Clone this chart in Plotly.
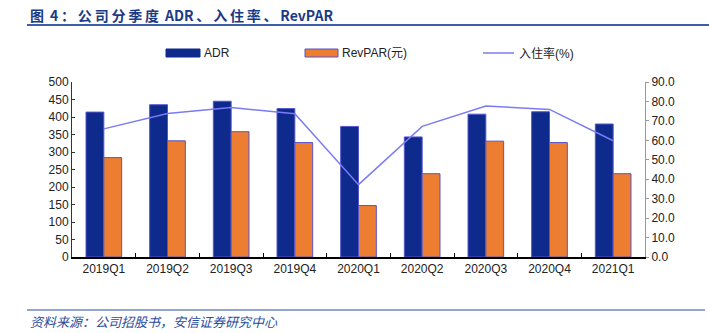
import plotly.graph_objects as go

categories = ["2019Q1", "2019Q2", "2019Q3", "2019Q4", "2020Q1", "2020Q2", "2020Q3", "2020Q4", "2021Q1"]
adr = [414, 435, 445, 424, 373, 343, 408, 415, 380]
revpar = [284, 332, 358, 327, 147, 238, 331, 327, 238]
occupancy = [65.9, 73.8, 76.9, 73.7, 37.2, 67.2, 77.6, 75.9, 59.8]

left_ticks = list(range(0, 501, 50))
right_ticks = list(range(0, 91, 10))

# plot area in pixels
PL, PR, PT, PB = 72, 645, 82, 257
W, H = 709, 333


def px(x):
    return (x - PL) / (PR - PL)


def py(y):
    return (PB - y) / (PB - PT)


FONT = "Liberation Sans, Arial, Noto Sans CJK SC, sans-serif"
CJK = "Noto Sans CJK SC, Liberation Sans, sans-serif"
ADR_C = "#0D2A8C"
REV_C = "#ED7D31"
EDGE_C = "#5555CC"
LINE_C = "#7B7BF5"

fig = go.Figure()
fig.add_trace(go.Bar(x=categories, y=adr, name="ADR", marker=dict(color=ADR_C, line=dict(color=EDGE_C, width=1)),
                     showlegend=False))
fig.add_trace(go.Bar(x=categories, y=revpar, name="RevPAR(元)", marker=dict(color=REV_C, line=dict(color=EDGE_C, width=1)),
                     showlegend=False))
fig.add_trace(go.Scatter(x=categories, y=occupancy, name="入住率(%)", mode="lines", yaxis="y2",
                         line=dict(color=LINE_C, width=1.5), showlegend=False))

shapes = []
annotations = []

# title and rule (letter-spaced like the reference)
S = "\u2009"
title_txt = ("图" + S + " 4" + S + "：" + S + S.join("公司分季度") + S + " ADR" + S + "、" + S
             + S.join("入住率") + S + "、" + S + "RevPAR")
annotations.append(dict(text="<b>" + title_txt + "</b>", xref="paper", yref="paper",
                        x=px(28), y=py(15), xanchor="left", yanchor="middle", showarrow=False,
                        font=dict(family=CJK, size=14, color="#1B3A86")))
shapes.append(dict(type="line", xref="paper", yref="paper", x0=px(27), x1=px(709), y0=py(25), y1=py(25),
                   line=dict(color="#3D5EA8", width=2)))

# source
shapes.append(dict(type="line", xref="paper", yref="paper", x0=px(27), x1=px(705), y0=py(310), y1=py(310),
                   line=dict(color="#2B4C9C", width=1)))
annotations.append(dict(text="<i>资料来源：公司招股书，安信证券研究中心</i>", xref="paper", yref="paper",
                        x=px(28), y=py(321), xanchor="left", yanchor="middle", showarrow=False,
                        font=dict(family=CJK, size=13, color="#2B4C9C")))

# custom legend
LY = 53
shapes.append(dict(type="rect", xref="paper", yref="paper", x0=px(166), x1=px(200), y0=py(LY - 4), y1=py(LY + 4),
                   fillcolor=ADR_C, line=dict(color=ADR_C, width=1)))
annotations.append(dict(text="ADR", xref="paper", yref="paper", x=px(202), y=py(LY), xanchor="left",
                        yanchor="middle", showarrow=False, font=dict(family=FONT, size=12, color="#222")))
shapes.append(dict(type="rect", xref="paper", yref="paper", x0=px(305), x1=px(338), y0=py(LY - 4), y1=py(LY + 4),
                   fillcolor=REV_C, line=dict(color=EDGE_C, width=1)))
annotations.append(dict(text="RevPAR(元)", xref="paper", yref="paper", x=px(340), y=py(LY), xanchor="left",
                        yanchor="middle", showarrow=False, font=dict(family=FONT, size=12, color="#222")))
shapes.append(dict(type="line", xref="paper", yref="paper", x0=px(483), x1=px(514), y0=py(LY), y1=py(LY),
                   line=dict(color=LINE_C, width=1.5)))
annotations.append(dict(text="入住率(%)", xref="paper", yref="paper", x=px(517), y=py(LY), xanchor="left",
                        yanchor="middle", showarrow=False, font=dict(family=FONT, size=12, color="#222")))

fig.update_layout(
    width=W, height=H,
    margin=dict(l=PL, r=W - PR, t=PT, b=H - PB),
    paper_bgcolor="white", plot_bgcolor="white",
    barmode="group", bargap=0.44, bargroupgap=0,
    font=dict(family=FONT, size=12, color="#222"),
    showlegend=False,
    shapes=shapes, annotations=annotations,
    xaxis=dict(showline=True, linecolor="#000", linewidth=1.5, ticks="inside", tickson="boundaries",
               ticklen=4, tickcolor="#000", showgrid=False, tickfont=dict(size=12, color="#222")),
    yaxis=dict(range=[0, 500], tickvals=left_ticks, showline=True, linecolor="#333", linewidth=1,
               ticks="inside", ticklen=3, tickcolor="#333", showgrid=False, zeroline=False,
               tickfont=dict(size=12, color="#222")),
    yaxis2=dict(range=[0, 90], tickvals=right_ticks, tickformat=".1f", overlaying="y", side="right",
                showline=True, linecolor="#999", linewidth=1, ticks="outside", ticklen=3, tickcolor="#999",
                showgrid=False, zeroline=False, tickfont=dict(size=12, color="#222")),
)

fig.write_html("out.html")
